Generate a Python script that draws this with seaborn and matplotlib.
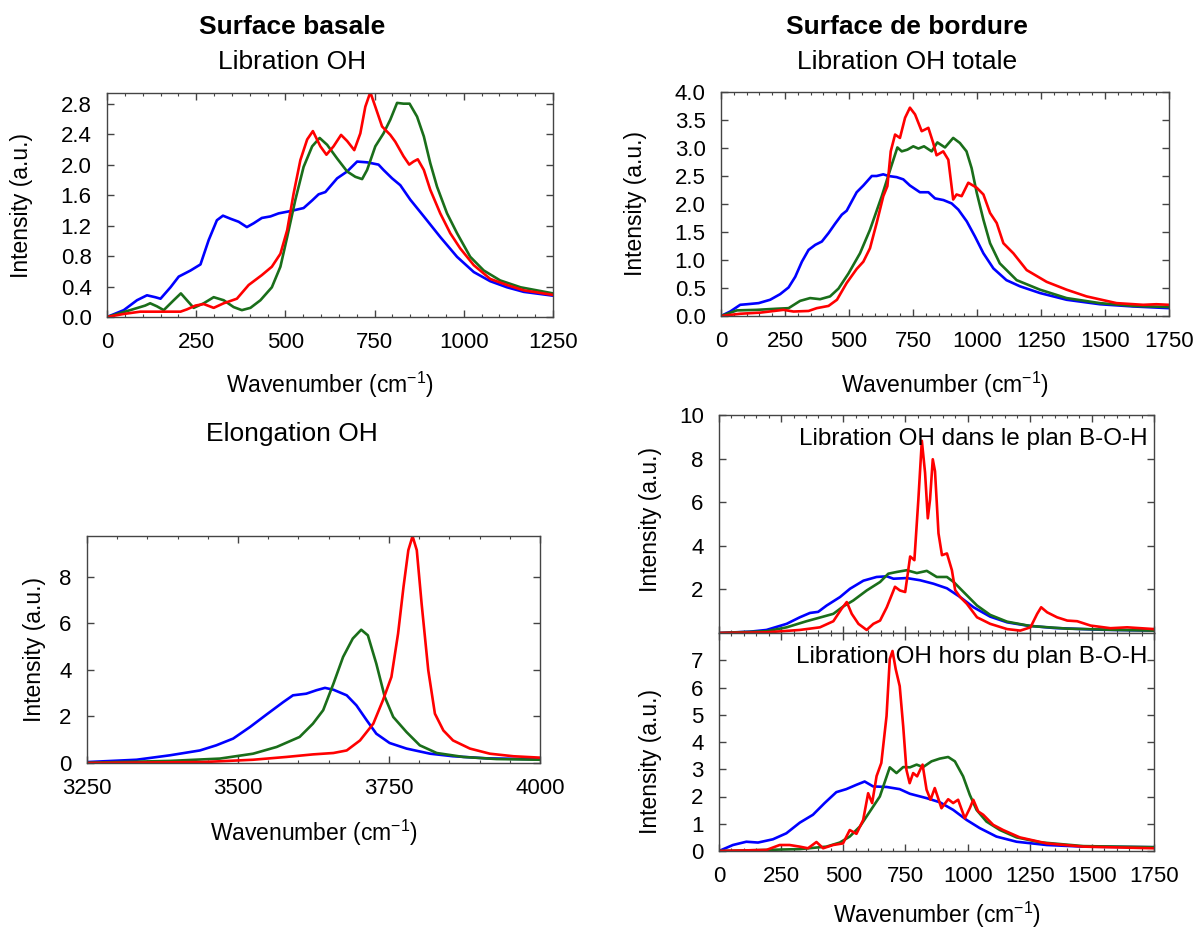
import matplotlib
matplotlib.use("Agg")
import numpy as np
import pandas as pd
import seaborn as sns
import matplotlib.pyplot as plt
from matplotlib.ticker import MultipleLocator

# ---- Surface basale, libration OH ----
ba_blue_x = [0, 47, 84, 112, 135, 150, 178, 201, 234, 262, 285, 308, 325, 346, 369, 392, 411, 434, 458, 481,
             514, 551, 575, 593, 612, 645, 673, 701, 729, 761, 775, 799, 822, 850, 888, 934, 981, 1028, 1074,
             1121, 1168, 1250]
ba_blue_y = [0, 0.09, 0.22, 0.285, 0.26, 0.24, 0.39, 0.53, 0.61, 0.69, 1.01, 1.27, 1.33, 1.29, 1.25, 1.18, 1.23,
             1.30, 1.32, 1.36, 1.39, 1.43, 1.53, 1.61, 1.64, 1.82, 1.91, 2.04, 2.03, 2.00, 1.93, 1.82, 1.73, 1.54,
             1.32, 1.05, 0.79, 0.59, 0.47, 0.39, 0.33, 0.28]
ba_green_x = [0, 65, 107, 121, 140, 159, 187, 207, 224, 243, 271, 299, 327, 355, 378, 402, 430, 462, 486, 505,
              528, 551, 575, 596, 617, 645, 673, 696, 715, 729, 752, 775, 794, 813, 831, 848, 869, 888, 906, 925,
              953, 981, 1018, 1056, 1102, 1159, 1250]
ba_green_y = [0, 0.09, 0.15, 0.18, 0.14, 0.09, 0.22, 0.31, 0.22, 0.12, 0.18, 0.26, 0.22, 0.13, 0.09, 0.12, 0.22,
              0.39, 0.66, 1.05, 1.54, 1.97, 2.24, 2.35, 2.26, 2.08, 1.91, 1.84, 1.81, 1.93, 2.24, 2.41, 2.59, 2.81,
              2.80, 2.80, 2.63, 2.37, 2.02, 1.71, 1.36, 1.10, 0.79, 0.61, 0.48, 0.39, 0.31]
ba_red_x = [0, 47, 93, 140, 206, 224, 248, 271, 299, 327, 364, 397, 434, 462, 486, 505, 523, 542, 561, 577, 598,
            615, 635, 656, 673, 693, 710, 724, 738, 752, 771, 794, 808, 831, 847, 859, 871, 888, 906, 934, 962,
            990, 1028, 1074, 1121, 1168, 1250]
ba_red_y = [0, 0.04, 0.07, 0.07, 0.07, 0.10, 0.15, 0.17, 0.12, 0.18, 0.24, 0.42, 0.55, 0.66, 0.83, 1.14, 1.62,
            2.06, 2.33, 2.44, 2.24, 2.13, 2.24, 2.39, 2.31, 2.19, 2.41, 2.76, 2.95, 2.76, 2.50, 2.39, 2.30, 2.11,
            2.00, 2.04, 2.07, 1.93, 1.67, 1.36, 1.10, 0.90, 0.68, 0.50, 0.42, 0.35, 0.29]

# ---- Surface de bordure, libration OH totale ----
bt_blue_x = [0, 36, 75, 101, 147, 192, 231, 264, 290, 316, 342, 368, 394, 420, 446, 472, 491, 511, 530, 556, 589,
             608, 634, 654, 686, 712, 738, 777, 810, 836, 869, 901, 927, 960, 992, 1025, 1064, 1115, 1168, 1246,
             1350, 1480, 1610, 1750]
bt_blue_y = [0, 0.08, 0.20, 0.21, 0.23, 0.29, 0.39, 0.51, 0.70, 0.97, 1.18, 1.27, 1.33, 1.48, 1.65, 1.81, 1.88,
             2.05, 2.21, 2.33, 2.50, 2.50, 2.53, 2.50, 2.48, 2.44, 2.33, 2.21, 2.21, 2.10, 2.07, 2.01, 1.90, 1.69,
             1.42, 1.12, 0.85, 0.64, 0.53, 0.41, 0.29, 0.21, 0.17, 0.14]
bt_green_x = [0, 62, 140, 218, 264, 309, 348, 387, 426, 459, 498, 543, 582, 628, 667, 689, 706, 728, 751, 771,
              793, 823, 845, 875, 907, 933, 959, 979, 999, 1025, 1051, 1089, 1155, 1246, 1350, 1480, 1610, 1750]
bt_green_y = [0, 0.10, 0.11, 0.13, 0.14, 0.27, 0.32, 0.30, 0.35, 0.49, 0.76, 1.12, 1.54, 2.14, 2.70, 3.01, 2.94,
              2.97, 3.03, 2.99, 3.03, 2.94, 3.10, 3.01, 3.18, 3.09, 2.94, 2.64, 2.20, 1.72, 1.30, 0.94, 0.64, 0.47,
              0.32, 0.23, 0.18, 0.16]
bt_red_x = [0, 75, 153, 244, 283, 342, 374, 420, 453, 491, 530, 556, 582, 608, 634, 650, 663, 680, 699, 719, 738,
            758, 784, 810, 829, 842, 868, 888, 907, 920, 940, 966, 999, 1025, 1051, 1077, 1103, 1142, 1194, 1272,
            1350, 1428, 1545, 1649, 1701, 1750]
bt_red_y = [0, 0.04, 0.06, 0.11, 0.08, 0.09, 0.14, 0.18, 0.29, 0.59, 0.84, 0.97, 1.21, 1.66, 2.14, 2.32, 2.94,
            3.24, 3.18, 3.54, 3.72, 3.60, 3.30, 3.36, 3.09, 2.87, 2.94, 2.79, 2.08, 2.17, 2.14, 2.38, 2.29, 2.17,
            1.84, 1.66, 1.30, 1.12, 0.82, 0.61, 0.47, 0.35, 0.23, 0.20, 0.21, 0.20]

# ---- Surface basale, elongation OH ----
el_blue_x = [3250, 3332, 3387, 3437, 3464, 3492, 3520, 3547, 3575, 3591, 3613, 3630, 3644, 3658, 3680, 3696,
             3713, 3729, 3751, 3779, 3818, 3856, 3912, 4000]
el_blue_y = [0.04, 0.14, 0.33, 0.54, 0.76, 1.05, 1.55, 2.08, 2.62, 2.91, 2.98, 3.13, 3.23, 3.15, 2.91, 2.48,
             1.84, 1.26, 0.86, 0.62, 0.40, 0.29, 0.20, 0.16]
el_green_x = [3250, 3387, 3470, 3525, 3564, 3602, 3624, 3641, 3658, 3674, 3690, 3704, 3715, 3729, 3743, 3757,
              3779, 3801, 3829, 3873, 3928, 4000]
el_green_y = [0.01, 0.09, 0.19, 0.40, 0.69, 1.12, 1.69, 2.27, 3.41, 4.56, 5.35, 5.73, 5.49, 4.27, 2.84, 1.98,
              1.33, 0.76, 0.43, 0.26, 0.17, 0.14]
el_red_x = [3250, 3442, 3525, 3580, 3624, 3658, 3680, 3702, 3724, 3740, 3754, 3765, 3774, 3782, 3789, 3796,
            3804, 3815, 3826, 3840, 3856, 3884, 3917, 3956, 4000]
el_red_y = [0, 0.04, 0.14, 0.26, 0.37, 0.43, 0.54, 0.97, 1.69, 2.70, 3.70, 5.56, 7.57, 9.15, 9.75, 9.15, 6.85,
            3.99, 2.12, 1.40, 0.97, 0.62, 0.40, 0.29, 0.23]

# ---- Surface de bordure, libration dans le plan ----
ip_blue_x = [0, 124, 191, 272, 325, 366, 399, 433, 487, 527, 581, 634, 675, 702, 755, 809, 863, 917, 970, 1024,
             1091, 1159, 1239, 1347, 1535, 1750]
ip_blue_y = [0, 0.06, 0.14, 0.42, 0.72, 0.92, 0.97, 1.26, 1.65, 2.03, 2.40, 2.57, 2.60, 2.49, 2.52, 2.42, 2.26,
             2.05, 1.65, 1.18, 0.75, 0.49, 0.34, 0.23, 0.15, 0.11]
ip_green_x = [0, 191, 272, 352, 419, 460, 500, 540, 594, 648, 681, 715, 755, 796, 836, 876, 917, 944, 984, 1038,
              1091, 1159, 1253, 1401, 1602, 1750]
ip_green_y = [0, 0.08, 0.26, 0.54, 0.75, 0.88, 1.22, 1.49, 1.95, 2.34, 2.72, 2.80, 2.88, 2.75, 2.85, 2.57, 2.57,
              2.34, 1.88, 1.26, 0.83, 0.52, 0.32, 0.20, 0.14, 0.11]
ip_red_x = [0, 191, 325, 406, 460, 493, 514, 534, 561, 594, 621, 648, 675, 708, 728, 749, 769, 786, 802, 816, 829,
            840, 849, 860, 869, 883, 897, 917, 937, 950, 970, 997, 1038, 1091, 1159, 1212, 1253, 1280, 1296, 1320,
            1360, 1401, 1441, 1495, 1575, 1642, 1750]
ip_red_y = [0, 0.03, 0.14, 0.26, 0.54, 1.11, 1.42, 0.88, 0.42, 0.14, 0.42, 0.57, 1.18, 2.12, 1.95, 1.88, 3.51,
            3.34, 6.12, 8.82, 7.35, 5.26, 6.12, 7.97, 7.42, 4.57, 3.57, 3.65, 2.88, 1.97, 1.65, 1.34, 0.72, 0.42,
            0.18, 0.11, 0.26, 0.88, 1.18, 0.95, 0.72, 0.57, 0.54, 0.34, 0.22, 0.26, 0.18]

# ---- Surface de bordure, libration hors du plan ----
op_blue_x = [0, 56, 110, 157, 217, 271, 325, 378, 425, 472, 512, 553, 586, 620, 674, 727, 768, 835, 888, 942, 996,
             1049, 1116, 1197, 1318, 1466, 1750]
op_blue_y = [0, 0.22, 0.34, 0.31, 0.43, 0.65, 1.04, 1.33, 1.76, 2.16, 2.27, 2.43, 2.55, 2.37, 2.35, 2.27, 2.10,
             1.94, 1.79, 1.51, 1.14, 0.84, 0.53, 0.34, 0.22, 0.16, 0.14]
op_green_x = [0, 191, 325, 432, 486, 526, 567, 607, 647, 687, 714, 741, 768, 795, 821, 855, 888, 922, 949, 982,
              1009, 1036, 1076, 1130, 1197, 1291, 1466, 1750]
op_green_y = [0, 0.04, 0.07, 0.16, 0.31, 0.53, 0.90, 1.45, 2.00, 3.07, 2.86, 3.08, 3.07, 3.17, 3.08, 3.29, 3.39,
              3.45, 3.29, 2.74, 2.06, 1.51, 1.08, 0.77, 0.50, 0.32, 0.18, 0.14]
op_red_x = [0, 191, 244, 284, 325, 358, 392, 419, 459, 499, 526, 553, 580, 600, 616, 634, 653, 674, 687, 698, 711,
            727, 741, 754, 767, 781, 797, 819, 835, 851, 868, 895, 922, 942, 962, 989, 1009, 1023, 1043, 1063,
            1103, 1143, 1210, 1318, 1466, 1750]
op_red_y = [0, 0.04, 0.22, 0.22, 0.16, 0.10, 0.33, 0.10, 0.22, 0.28, 0.77, 0.63, 1.14, 2.12, 1.76, 2.75, 3.23,
            4.95, 7.04, 7.34, 6.67, 6.05, 4.58, 2.98, 2.49, 2.86, 2.74, 3.17, 2.25, 1.88, 2.31, 1.57, 1.90, 1.76,
            1.88, 1.20, 1.57, 1.88, 1.45, 1.33, 0.96, 0.77, 0.50, 0.28, 0.16, 0.10]

series_names = ["blue", "green", "red"]
palette = {"blue": "#0000ff", "green": "#1a6e1a", "red": "#ff0000"}

sns.set_theme(style="ticks")
plt.rcParams["font.family"] = ["Liberation Sans", "DejaVu Sans"]
plt.rcParams["mathtext.default"] = "regular"
plt.rcParams["text.color"] = "black"
plt.rcParams["axes.labelcolor"] = "black"
LBL = 16.5
TCK = 16
TTL = 19


def draw(ax, xs, ys):
    frames = [pd.DataFrame({"x": x, "y": y, "s": n}) for n, x, y in zip(series_names, xs, ys)]
    df = pd.concat(frames, ignore_index=True)
    sns.lineplot(data=df, x="x", y="y", hue="s", hue_order=series_names, palette=palette,
                 estimator=None, sort=False, lw=1.9, legend=False, ax=ax)


def style(ax, xlim, ylim, xt, yt, ylabels, xlabels=True):
    ax.set_xlim(*xlim)
    ax.set_ylim(*ylim)
    ax.set_xticks(xt)
    ax.set_yticks(yt)
    ax.set_yticklabels(ylabels)
    if not xlabels:
        ax.set_xticklabels([])
    ax.xaxis.set_minor_locator(MultipleLocator(50))
    ax.tick_params(which="both", direction="in", top=True, right=True, color="#444444", labelcolor="black")
    ax.tick_params(which="major", length=5, width=1, labelsize=TCK, pad=11)
    ax.tick_params(which="minor", length=2.5, width=0.8)
    for s in ax.spines.values():
        s.set_color("#444444")
        s.set_linewidth(1)
    ax.set_xlabel("")
    ax.set_ylabel("")


def labels(ax, xpos, ypos, xlabel=True):
    if xlabel:
        ax.set_xlabel("Wavenumber (cm$^{-1}$)", fontsize=LBL)
        ax.xaxis.set_label_coords(*xpos)
    ax.set_ylabel("Intensity (a.u.)", fontsize=LBL)
    ax.yaxis.set_label_coords(*ypos)


fig = plt.figure(figsize=(11.96, 9.34), dpi=100)
W, H = 1196, 934


def add(l, t, r, b):
    return fig.add_axes([l / W, 1 - b / H, (r - l) / W, (b - t) / H])


axA = add(107, 93, 553, 317)
axB = add(721, 92, 1169, 316)
axC = add(87, 536, 540, 763)
axD = add(719, 415, 1154, 633)
axE = add(719, 633, 1154, 851)

draw(axA, [ba_blue_x, ba_green_x, ba_red_x], [ba_blue_y, ba_green_y, ba_red_y])
style(axA, (0, 1250), (0, 2.94), [0, 250, 500, 750, 1000, 1250],
      [0, 0.4, 0.8, 1.2, 1.6, 2.0, 2.4, 2.8], ["0.0", "0.4", "0.8", "1.2", "1.6", "2.0", "2.4", "2.8"])
labels(axA, (0.5, -0.235), (-0.165, 0.5))

draw(axB, [bt_blue_x, bt_green_x, bt_red_x], [bt_blue_y, bt_green_y, bt_red_y])
style(axB, (0, 1750), (0, 4.0), [0, 250, 500, 750, 1000, 1250, 1500, 1750],
      [0, 0.5, 1.0, 1.5, 2.0, 2.5, 3.0, 3.5, 4.0],
      ["0.0", "0.5", "1.0", "1.5", "2.0", "2.5", "3.0", "3.5", "4.0"])
labels(axB, (0.5, -0.24), (-0.165, 0.5))

draw(axC, [el_blue_x, el_green_x, el_red_x], [el_blue_y, el_green_y, el_red_y])
style(axC, (3250, 4000), (0, 9.76), [3250, 3500, 3750, 4000], [0, 2, 4, 6, 8], ["0", "2", "4", "6", "8"])
labels(axC, (0.5, -0.24), (-0.09, 0.5))

draw(axD, [ip_blue_x, ip_green_x, ip_red_x], [ip_blue_y, ip_green_y, ip_red_y])
style(axD, (0, 1750), (0, 10), [0, 250, 500, 750, 1000, 1250, 1500, 1750], [2, 4, 6, 8, 10],
      ["2", "4", "6", "8", "10"], xlabels=False)
labels(axD, None, (-0.13, 0.52), xlabel=False)
axD.text(0.985, 0.89, "Libration OH dans le plan B-O-H", transform=axD.transAxes, ha="right", va="center",
         fontsize=17.5)

draw(axE, [op_blue_x, op_green_x, op_red_x], [op_blue_y, op_green_y, op_red_y])
style(axE, (0, 1750), (0, 8), [0, 250, 500, 750, 1000, 1250, 1500, 1750], list(range(8)),
      [str(i) for i in range(8)])
labels(axE, (0.5, -0.225), (-0.13, 0.41))
axE.text(0.985, 0.89, "Libration OH hors du plan B-O-H", transform=axE.transAxes, ha="right", va="center",
         fontsize=17.5)

fig.text(292 / W, 1 - 27 / H, "Surface basale", ha="center", va="center", fontsize=TTL, weight="bold")
fig.text(292 / W, 1 - 62 / H, "Libration OH", ha="center", va="center", fontsize=TTL)
fig.text(907 / W, 1 - 27 / H, "Surface de bordure", ha="center", va="center", fontsize=TTL, weight="bold")
fig.text(907 / W, 1 - 62 / H, "Libration OH totale", ha="center", va="center", fontsize=TTL)
fig.text(292 / W, 1 - 434 / H, "Elongation OH", ha="center", va="center", fontsize=TTL)

fig.savefig("out.png", dpi=100)
